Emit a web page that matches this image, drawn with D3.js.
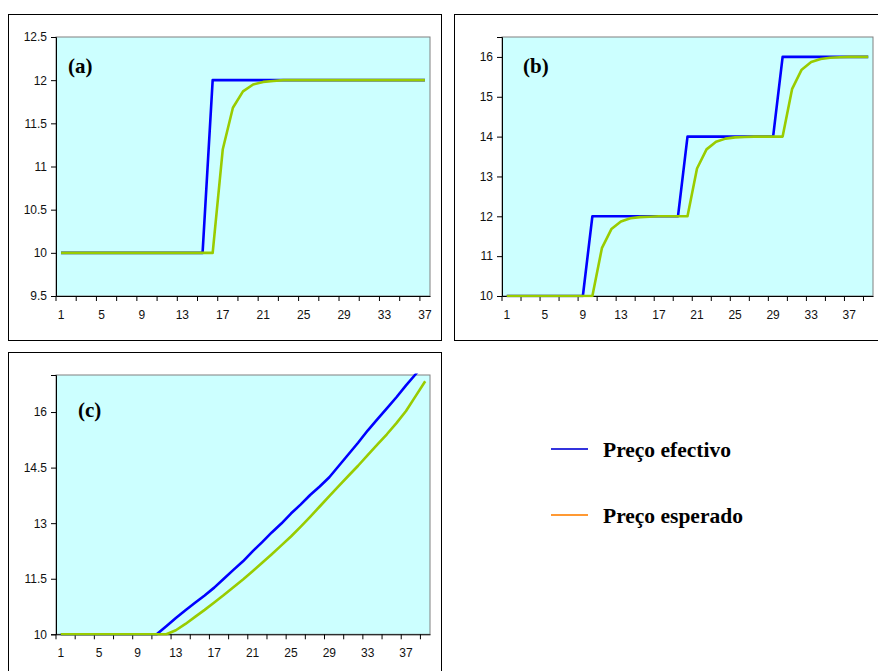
<!DOCTYPE html>
<html>
<head>
<meta charset="utf-8">
<script src="https://cdnjs.cloudflare.com/ajax/libs/d3/7.8.5/d3.min.js"></script>
<style>
    body { margin: 0; background: #fff; }
    .tick text { font-family: "Liberation Sans", Arial, sans-serif; font-size: 12px; fill: #111; }
    .panelLabel { font-family: "Liberation Serif", "Times New Roman", serif; font-weight: bold; font-size: 21px; fill: #000; }
    .legendLabel { font-family: "Liberation Serif", "Times New Roman", serif; font-weight: bold; font-size: 21.5px; fill: #000; }
</style>
</head>
<body>
<svg id="chart" width="878" height="671"></svg>
<script>
// categories (time periods)
var categoriesA = d3.range(1, 38);
var categoriesB = d3.range(1, 40);
var categoriesC = d3.range(1, 40);
var xTickLabels = [1, 5, 9, 13, 17, 21, 25, 29, 33, 37];

// y tick labels
var yTicksA = [9.5, 10, 10.5, 11, 11.5, 12, 12.5];
var yTicksB = [10, 11, 12, 13, 14, 15, 16];
var yTicksC = [10, 11.5, 13, 14.5, 16];

// (a) one permanent rise of the price
var efectivoA = [10, 10, 10, 10, 10, 10, 10, 10, 10, 10, 10, 10, 10, 10, 10,
    12, 12, 12, 12, 12, 12, 12, 12, 12, 12, 12, 12, 12, 12, 12, 12, 12, 12, 12, 12, 12, 12];
var esperadoA = [10, 10, 10, 10, 10, 10, 10, 10, 10, 10, 10, 10, 10, 10, 10, 10,
    11.2, 11.68, 11.87, 11.95, 11.98, 11.99, 12, 12, 12, 12, 12, 12, 12, 12, 12, 12, 12, 12, 12, 12, 12];

// (b) three successive rises
var efectivoB = [10, 10, 10, 10, 10, 10, 10, 10, 10,
    12, 12, 12, 12, 12, 12, 12, 12, 12, 12,
    14, 14, 14, 14, 14, 14, 14, 14, 14, 14,
    16, 16, 16, 16, 16, 16, 16, 16, 16, 16];
var esperadoB = [10, 10, 10, 10, 10, 10, 10, 10, 10, 10,
    11.2, 11.68, 11.87, 11.95, 11.98, 11.99, 12, 12, 12, 12,
    13.2, 13.68, 13.87, 13.95, 13.98, 13.99, 14, 14, 14, 14,
    15.2, 15.68, 15.87, 15.95, 15.98, 15.99, 16, 16, 16];

// (c) continuous rise
var efectivoC = [10, 10, 10, 10, 10, 10, 10, 10, 10, 10, 10,
    10.22, 10.44, 10.65, 10.85, 11.05, 11.26, 11.50, 11.74, 11.97, 12.24,
    12.49, 12.75, 12.99, 13.26, 13.50, 13.76, 13.99, 14.24, 14.55, 14.86,
    15.17, 15.50, 15.80, 16.10, 16.40, 16.72, 17.02, 17.35];
var esperadoC = [10, 10, 10, 10, 10, 10, 10, 10, 10, 10, 10, 10,
    10.11, 10.28, 10.47, 10.66, 10.86, 11.06, 11.27, 11.48, 11.70, 11.93,
    12.16, 12.40, 12.64, 12.90, 13.17, 13.45, 13.73, 14.01, 14.28, 14.55,
    14.84, 15.12, 15.40, 15.70, 16.03, 16.43, 16.83];

var seriesNames = ["Preço efectivo", "Preço esperado"];
var lineColors = ["#0000ff", "#99cc00"];
var legendColors = ["#3333dd", "#ff9933"];

var svg = d3.select("#chart");

/**
 * Draw one framed panel with its plot area, axes and the two price lines
 */
function drawPanel(p) {
    var g = svg.append("g").attr("class", "panel");

    g.append("rect")
        .attr("x", p.frame[0]).attr("y", p.frame[1])
        .attr("width", p.frame[2]).attr("height", p.frame[3])
        .attr("fill", "none").attr("stroke", "#000").attr("stroke-width", 1);

    var x = d3.scaleBand().domain(p.cats).range([p.left, p.right]).padding(0);
    var y = d3.scaleLinear().domain(p.yDomain).range([p.bottom, p.top]);

    g.append("rect")
        .attr("x", p.left).attr("y", p.top)
        .attr("width", p.right - p.left).attr("height", p.bottom - p.top)
        .attr("fill", "#ccffff").attr("stroke", "#808080").attr("stroke-width", 1);

    var clipId = "clip" + p.name;
    g.append("clipPath").attr("id", clipId)
        .append("rect")
        .attr("x", p.left).attr("y", p.top - 1.5)
        .attr("width", p.right - p.left + 2).attr("height", p.bottom - p.top + 3);

    // y axis
    g.append("g")
        .attr("transform", "translate(" + p.left + ",0)")
        .call(d3.axisLeft(y).tickValues(p.yTicks).tickSize(5).tickPadding(4)
            .tickFormat(function (d) { return String(d); }))
        .call(function (a) { a.selectAll("line, path").attr("stroke", "#000"); });

    // x axis: labels at category centres, tick marks at every second boundary
    var xAxis = g.append("g")
        .attr("transform", "translate(0," + p.bottom + ")")
        .call(d3.axisBottom(x).tickValues(xTickLabels).tickSize(0).tickPadding(14.5).tickSizeOuter(0));
    xAxis.select("path").attr("stroke", "#000");
    xAxis.selectAll(".boundaryTick")
        .data(p.cats.filter(function (c, i) { return i % 2 === 0; }))
        .enter().append("line")
        .attr("class", "boundaryTick")
        .attr("x1", function (c) { return x(c); }).attr("x2", function (c) { return x(c); })
        .attr("y1", 0).attr("y2", 5)
        .attr("stroke", "#000");

    var line = d3.line()
        .x(function (d, i) { return x(p.cats[i]) + x.bandwidth() / 2; })
        .y(function (d) { return y(d); });

    var lines = g.append("g").attr("clip-path", "url(#" + clipId + ")");
    p.series.forEach(function (s, k) {
        lines.append("path")
            .attr("d", line(s))
            .attr("fill", "none")
            .attr("stroke", lineColors[k])
            .attr("stroke-width", 2.6)
            .attr("stroke-linejoin", "round");
    });

    g.append("text").attr("class", "panelLabel")
        .attr("x", p.labelPos[0]).attr("y", p.labelPos[1])
        .text(p.label);
}

drawPanel({
    name: "A", frame: [8.5, 14.5, 433, 326],
    left: 56, right: 430, top: 37, bottom: 296,
    cats: categoriesA, yDomain: [9.5, 12.5], yTicks: yTicksA,
    series: [efectivoA, esperadoA], label: "(a)", labelPos: [68, 73]
});
drawPanel({
    name: "B", frame: [454.5, 14.5, 440, 326],
    left: 502, right: 873, top: 37, bottom: 296,
    cats: categoriesB, yDomain: [10, 16.5], yTicks: yTicksB,
    series: [efectivoB, esperadoB], label: "(b)", labelPos: [523, 73]
});
drawPanel({
    name: "C", frame: [8.5, 352.5, 433, 340],
    left: 56, right: 430, top: 375, bottom: 634.3,
    cats: categoriesC, yDomain: [10, 17], yTicks: yTicksC,
    series: [efectivoC, esperadoC], label: "(c)", labelPos: [78, 416.5]
});

// legend
var legend = svg.append("g").attr("class", "legend");
var legendItems = legend.selectAll("g")
    .data(seriesNames)
    .enter().append("g")
    .attr("transform", function (d, i) { return "translate(551," + (449 + i * 66) + ")"; });
legendItems.append("line")
    .attr("x1", 0).attr("x2", 37).attr("y1", 0).attr("y2", 0)
    .attr("stroke", function (d, i) { return legendColors[i]; })
    .attr("stroke-width", 2.2);
legendItems.append("text")
    .attr("class", "legendLabel")
    .attr("x", 52).attr("y", 8.3)
    .text(function (d) { return d; });
</script>
</body>
</html>
